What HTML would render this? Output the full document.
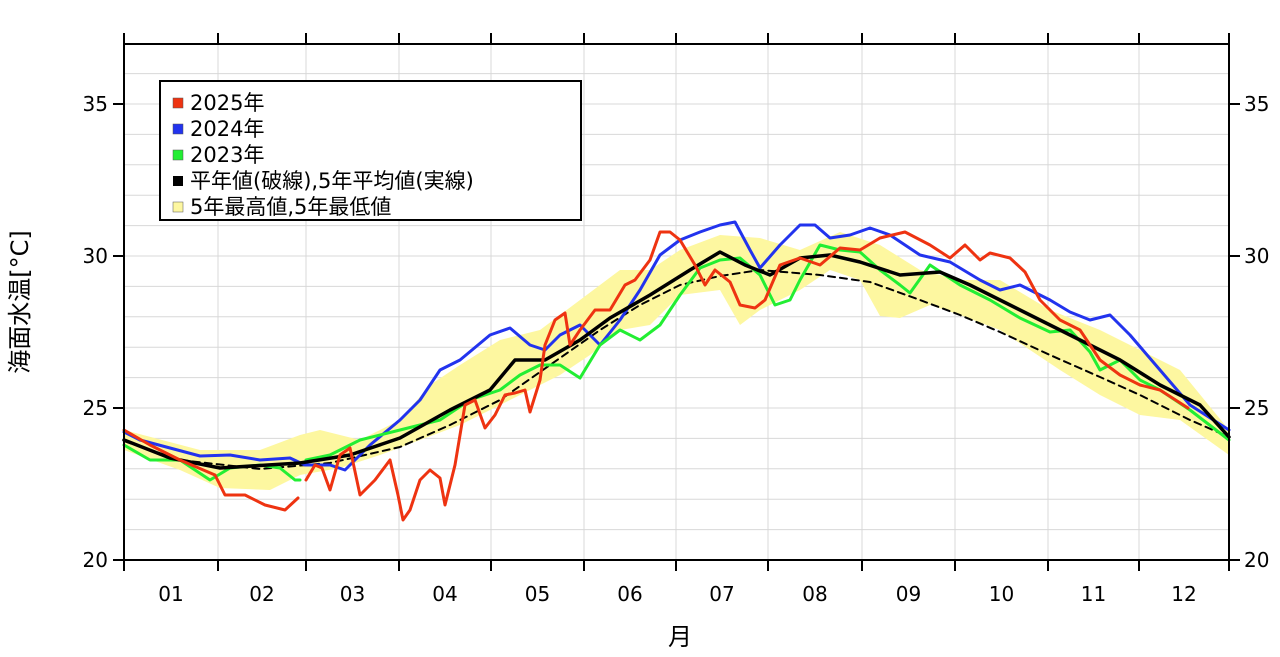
<!DOCTYPE html>
<html><head><meta charset="utf-8"><style>
body{margin:0;background:#fff;}
text{font-family:"DejaVu Sans","Noto Sans CJK JP",sans-serif;}
</style></head><body>
<svg width="1280" height="652" xmlns="http://www.w3.org/2000/svg">
<g stroke="#d8d8d8" stroke-width="1" id="grid"></g>
<polygon fill="#fdf7a0" stroke="none" points="124,430 200,450 260,450 300,435 320,430 360,440 400,420 430,385 460,365 500,340 540,330 580,300 620,270 650,270 680,250 720,235 760,238 800,250 840,232 880,245 920,270 960,280 1000,280 1050,310 1100,330 1140,350 1180,370 1229,430 1229,455 1180,420 1140,415 1100,395 1060,370 1000,330 960,315 930,305 900,318 880,316 860,280 830,270 800,290 780,300 760,310 740,325 720,290 680,295 650,325 620,330 590,355 560,375 520,395 490,410 460,425 420,440 380,455 340,468 300,475 270,490 220,488 180,470 124,450"/>
<g fill="none" stroke-linejoin="round" stroke-linecap="round">
<polyline stroke="#000" stroke-width="2" stroke-dasharray="7,5" points="124,441 180,460 260,469 330,463 400,447 450,425 500,400 550,365 600,330 640,305 680,285 720,276 760,270 820,275 870,282 920,300 960,315 1000,332 1050,355 1100,377 1140,395 1190,420 1229,437"/>
<polyline stroke="#2233ee" stroke-width="3" points="124,432 140,440 170,448 200,456 230,455 260,460 290,458 305,465 330,465 345,470 370,445 400,420 420,400 440,370 460,360 490,335 510,328 530,345 545,350 560,335 580,325 600,345 620,320 640,290 660,255 680,240 700,232 720,225 735,222 750,250 760,268 780,245 800,225 815,225 830,238 850,235 870,228 890,235 920,255 950,262 980,280 1000,290 1020,285 1050,300 1070,312 1090,320 1110,315 1130,335 1160,370 1190,405 1229,430"/>
<polyline stroke="#22ee33" stroke-width="3" points="124,445 150,460 180,460 210,480 230,468 260,465 280,468 295,480 300,480"/>
<polyline stroke="#22ee33" stroke-width="3" points="306,460 330,455 360,440 400,430 440,420 470,400 500,390 520,375 540,365 560,365 580,378 600,345 620,330 640,340 660,325 680,295 700,268 720,260 740,258 760,275 775,305 790,300 800,280 820,245 840,250 860,252 880,270 900,285 910,293 930,265 960,285 990,300 1020,318 1050,332 1070,330 1090,352 1100,370 1120,360 1140,380 1160,390 1190,410 1229,440"/>
<polyline stroke="#000" stroke-width="3.5" points="124,440 170,458 220,468 300,463 350,455 400,438 450,410 490,390 515,360 545,360 580,340 610,318 650,295 690,270 720,252 745,265 770,275 800,258 830,255 860,262 900,275 940,272 970,285 1000,300 1040,320 1080,340 1120,360 1160,385 1200,405 1229,437"/>
<polyline stroke="#ee3311" stroke-width="3" points="124,430 150,445 180,460 215,475 225,495 245,495 265,505 285,510 298,498"/>
<polyline stroke="#ee3311" stroke-width="3" points="306,480 315,465 322,468 330,490 340,455 350,448 360,495 375,480 390,460 398,495 403,520 410,510 420,480 430,470 440,478 445,505 455,465 465,405 475,400 485,428 495,415 505,395 515,393 525,390 530,412 540,380 545,345 555,320 565,313 570,345 580,330 595,310 610,310 625,285 635,280 650,260 660,232 670,232 680,240 695,265 705,285 715,270 730,282 740,305 755,308 765,300 780,265 800,258 820,265 840,248 860,250 880,238 905,232 930,245 950,258 965,245 980,260 990,253 1010,258 1025,272 1040,300 1060,320 1080,330 1100,360 1120,375 1140,385 1160,390 1188,408"/>
</g>
<rect x="124" y="44" width="1105" height="516" fill="none" stroke="#000" stroke-width="2"/>
<g stroke="#000" stroke-width="2" id="ticks"></g>
<g font-size="20" fill="#000" id="labels"></g>
<rect x="160" y="81" width="421" height="139" fill="#fff" stroke="#000" stroke-width="2"/>
<g font-size="21">
<rect x="173" y="98" width="10" height="10" fill="#ee3311" stroke="#555" stroke-width="0.5"/><text x="190" y="110">2025年</text>
<rect x="173" y="124" width="10" height="10" fill="#2233ee" stroke="#555" stroke-width="0.5"/><text x="190" y="136">2024年</text>
<rect x="173" y="150" width="10" height="10" fill="#22ee33" stroke="#555" stroke-width="0.5"/><text x="190" y="162">2023年</text>
<rect x="173" y="176" width="10" height="10" fill="#000"/><text x="190" y="188">平年値(破線),5年平均値(実線)</text>
<rect x="173" y="202" width="10" height="10" fill="#fdf7a0" stroke="#555" stroke-width="0.5"/><text x="190" y="214">5年最高値,5年最低値</text>
</g>
<text x="680" y="645" font-size="24" text-anchor="middle">月</text>
<text transform="translate(28,302) rotate(-90)" font-size="24" text-anchor="middle">海面水温[°C]</text>
</svg>
<script>
var ns="http://www.w3.org/2000/svg";
function el(p,t,a,txt){var e=document.createElementNS(ns,t);for(var k in a)e.setAttribute(k,a[k]);if(txt)e.textContent=txt;document.getElementById(p).appendChild(e);}
var m=[124,218,306,399,491,584,676,768,862,955,1048,1139,1229];
for(var t=21;t<=36;t++){var y=560-(t-20)*30.4;el("grid","line",{x1:124,x2:1229,y1:y,y2:y});}
for(var i=1;i<12;i++)el("grid","line",{x1:m[i],x2:m[i],y1:44,y2:560});
for(var i=0;i<13;i++){el("ticks","line",{x1:m[i],x2:m[i],y1:560,y2:571});el("ticks","line",{x1:m[i],x2:m[i],y1:33,y2:44});}
for(var i=0;i<12;i++)el("labels","text",{x:(m[i]+m[i+1])/2,y:601,"text-anchor":"middle"},(i<9?"0":"")+(i+1));
for(var t=20;t<=35;t+=5){var y=560-(t-20)*30.4;el("ticks","line",{x1:113,x2:124,y1:y,y2:y});el("ticks","line",{x1:1229,x2:1240,y1:y,y2:y});
el("labels","text",{x:108,y:y+7,"text-anchor":"end"},t);el("labels","text",{x:1244,y:y+7},t);}
</script>
</body></html>
